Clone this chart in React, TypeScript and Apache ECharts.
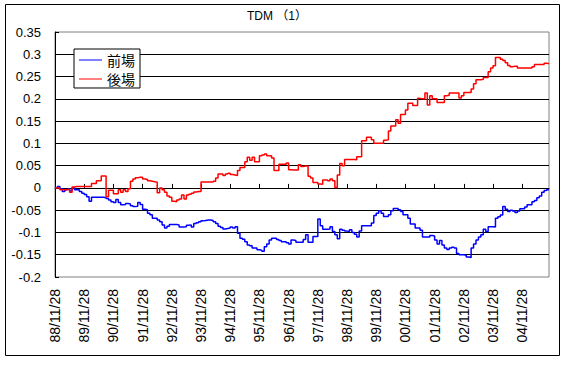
import React, { useEffect, useRef } from "react";
import * as echarts from "echarts";

// Year tick labels shown on the category axis (one every 12 monthly points)
const tickLabels = [
  "88/11/28", "89/11/28", "90/11/28", "91/11/28", "92/11/28", "93/11/28",
  "94/11/28", "95/11/28", "96/11/28", "97/11/28", "98/11/28", "99/11/28",
  "00/11/28", "01/11/28", "02/11/28", "03/11/28", "04/11/28",
];

// 前場 (blue) – monthly values, one row per year
const zenba = [
  0, 0.003, -0.002, -0.008, -0.004, -0.002, -0.007, 0, -0.004, -0.004, -0.008, -0.012,
  -0.015, -0.02, -0.03, -0.021, -0.021, -0.021, -0.021, -0.021, -0.022, -0.024, -0.027, -0.031,
  -0.033, -0.026, -0.033, -0.038, -0.037, -0.035, -0.036, -0.04, -0.042, -0.041, -0.033, -0.037,
  -0.048, -0.049, -0.057, -0.06, -0.068, -0.068, -0.072, -0.076, -0.083, -0.09, -0.086, -0.082,
  -0.082, -0.082, -0.083, -0.088, -0.088, -0.087, -0.084, -0.083, -0.088, -0.08, -0.078, -0.076,
  -0.074, -0.073, -0.072, -0.072, -0.073, -0.076, -0.08, -0.086, -0.089, -0.092, -0.091, -0.09,
  -0.088, -0.09, -0.087, -0.102, -0.113, -0.115, -0.121, -0.128, -0.13, -0.135, -0.135, -0.139,
  -0.14, -0.142, -0.132, -0.126, -0.117, -0.113, -0.113, -0.116, -0.118, -0.121, -0.121, -0.123,
  -0.126, -0.117, -0.118, -0.122, -0.122, -0.122, -0.116, -0.105, -0.122, -0.122, -0.109, -0.109,
  -0.07, -0.085, -0.093, -0.093, -0.092, -0.087, -0.098, -0.105, -0.114, -0.093, -0.095, -0.097,
  -0.098, -0.094, -0.1, -0.104, -0.11, -0.097, -0.085, -0.085, -0.085, -0.085, -0.079, -0.062,
  -0.057, -0.051, -0.057, -0.064, -0.064, -0.06, -0.051, -0.046, -0.046, -0.049, -0.053, -0.06,
  -0.06, -0.068, -0.081, -0.081, -0.09, -0.09, -0.095, -0.11, -0.11, -0.11, -0.107, -0.108,
  -0.117, -0.126, -0.118, -0.128, -0.135, -0.138, -0.135, -0.133, -0.135, -0.147, -0.15, -0.15,
  -0.151, -0.155, -0.156, -0.135, -0.126, -0.117, -0.11, -0.105, -0.093, -0.098, -0.087, -0.087,
  -0.088, -0.068, -0.065, -0.061, -0.042, -0.048, -0.053, -0.05, -0.052, -0.055, -0.052, -0.047,
  -0.047, -0.043, -0.038, -0.038, -0.031, -0.028, -0.022, -0.018, -0.01, -0.006, -0.004, -0.004,
];

// 後場 (red) – monthly values, one row per year
const goba = [
  0, 0, -0.004, -0.004, -0.004, -0.003, -0.01, 0.002, 0.003, 0.003, 0.003, 0.003,
  0.003, 0.003, 0.003, 0.01, 0.01, 0.016, 0.016, 0.027, 0.027, -0.02, -0.005, -0.005,
  -0.013, -0.013, -0.004, -0.01, -0.004, -0.008, -0.002, 0.015, 0.02, 0.023, 0.024, 0.024,
  0.02, 0.019, 0.016, 0.015, 0.014, 0.013, -0.011, 0, -0.004, -0.01, -0.018, -0.021,
  -0.03, -0.031, -0.027, -0.025, -0.016, -0.025, -0.016, -0.014, -0.012, -0.009, -0.008, -0.008,
  0.013, 0.013, 0.013, 0.013, 0.013, 0.015, 0.022, 0.031, 0.031, 0.028, 0.031, 0.033,
  0.03, 0.029, 0.028, 0.039, 0.046, 0.046, 0.059, 0.069, 0.062, 0.069, 0.059, 0.059,
  0.072, 0.074, 0.076, 0.072, 0.072, 0.067, 0.039, 0.039, 0.053, 0.053, 0.053, 0.056,
  0.041, 0.04, 0.04, 0.04, 0.052, 0.048, 0.049, 0.049, 0.026, 0.022, 0.012, 0.012,
  0.009, 0.008, 0.018, 0.018, 0.016, 0.02, 0.016, 0.001, 0.029, 0.055, 0.05, 0.064,
  0.064, 0.064, 0.064, 0.063, 0.07, 0.07, 0.106, 0.106, 0.114, 0.114, 0.108, 0.1,
  0.1, 0.1, 0.1, 0.107, 0.108, 0.128, 0.139, 0.139, 0.153, 0.145, 0.165, 0.165,
  0.175, 0.19, 0.19, 0.185, 0.185, 0.201, 0.2, 0.2, 0.213, 0.186, 0.207, 0.2,
  0.2, 0.192, 0.192, 0.192, 0.207, 0.208, 0.213, 0.213, 0.213, 0.213, 0.202, 0.207,
  0.214, 0.214, 0.214, 0.222, 0.234, 0.243, 0.243, 0.244, 0.248, 0.248, 0.261, 0.269,
  0.274, 0.293, 0.293, 0.289, 0.286, 0.281, 0.275, 0.272, 0.273, 0.273, 0.269, 0.269,
  0.269, 0.269, 0.269, 0.269, 0.272, 0.277, 0.277, 0.277, 0.277, 0.28, 0.279, 0.279,
];

const seriesNames = ["前場", "後場"];
const titleText = "TDM （1）";

// Monthly category names; every 12th one is a year tick label
function buildCategories(): string[] {
  const out: string[] = [];
  const n = zenba.length;
  for (let i = 0; i < n; i++) {
    const yearIdx = Math.floor(i / 12);
    const base = tickLabels[Math.min(yearIdx, tickLabels.length - 1)];
    const m = i % 12;
    if (m === 0) {
      out.push(base);
    } else {
      const yy = parseInt(base.slice(0, 2), 10);
      const month = ((10 + m) % 12) + 1;
      const year = month < 11 ? (yy + 1) % 100 : yy;
      out.push(`${String(year).padStart(2, "0")}/${String(month).padStart(2, "0")}/28`);
    }
  }
  return out;
}

const FONT = '"Liberation Sans", Arial, "Noto Sans CJK JP", sans-serif';
const CJK = '"Noto Sans CJK JP", "Liberation Sans", sans-serif';

export default function App() {
  const ref = useRef<HTMLDivElement>(null);

  useEffect(() => {
    if (!ref.current) return;
    const chart = echarts.init(ref.current, undefined, { renderer: "svg" });
    const categories = buildCategories();

    const option: any = {
      animation: false,
      backgroundColor: "#ffffff",
      title: {
        text: titleText,
        left: 247,
        top: 10,
        padding: 0,
        textStyle: { fontSize: 12, fontWeight: "normal", color: "#000", fontFamily: FONT },
      },
      legend: {
        data: seriesNames,
        orient: "vertical",
        left: 74,
        top: 49,
        padding: [4, 5, 2, 5],
        itemGap: 5,
        itemWidth: 23,
        itemHeight: 1,
        icon: "rect",
        borderColor: "#000",
        borderWidth: 1,
        borderRadius: 0,
        backgroundColor: "#fff",
        textStyle: { fontSize: 14, color: "#000", fontFamily: CJK },
      },
      grid: {
        left: 55,
        top: 32,
        right: 31,
        bottom: 91,
        show: true,
        borderColor: "#808080",
        borderWidth: 1,
        backgroundColor: "transparent",
      },
      xAxis: [
        {
          type: "category",
          data: categories,
          boundaryGap: false,
          position: "bottom",
          axisLine: { show: false, onZero: false },
          axisTick: { show: false },
          axisLabel: {
            interval: 11,
            rotate: 90,
            margin: 12,
            fontSize: 14,
            color: "#000",
            fontFamily: FONT,
          },
          splitLine: { show: false },
        },
        {
          type: "category",
          data: categories,
          boundaryGap: false,
          position: "top",
          axisLine: { show: true, onZero: true, lineStyle: { color: "#000", width: 1 } },
          axisTick: { show: true, interval: 11, length: 4, inside: false, lineStyle: { color: "#000", width: 1 } },
          axisLabel: { show: false },
          splitLine: { show: false },
        },
      ],
      yAxis: {
        type: "value",
        min: -0.2,
        max: 0.35,
        interval: 0.05,
        axisLine: { show: true, onZero: false, lineStyle: { color: "#000", width: 1 } },
        axisTick: { show: true, inside: true, length: 4, lineStyle: { color: "#000" } },
        axisLabel: {
          margin: 14,
          fontSize: 13,
          color: "#000",
          fontFamily: FONT,
          formatter: (v: number) => String(parseFloat(v.toFixed(2))),
        },
        splitLine: {
          show: true,
          showMinLine: false,
          showMaxLine: false,
          lineStyle: { color: "#000", width: 1 },
        },
      },
      series: [
        {
          name: seriesNames[0],
          type: "line",
          step: "end",
          data: zenba,
          symbol: "none",
          color: "#0000ff",
          lineStyle: { color: "#0000ff", width: 1.5 },
          itemStyle: { color: "#0000ff" },
        },
        {
          name: seriesNames[1],
          type: "line",
          step: "end",
          data: goba,
          symbol: "none",
          color: "#ff0000",
          lineStyle: { color: "#ff0000", width: 1.5 },
          itemStyle: { color: "#ff0000" },
        },
      ],
      graphic: [
        {
          type: "rect",
          silent: true,
          z: 100,
          shape: { x: 5.5, y: 4.5, width: 554, height: 351 },
          style: { fill: "none", stroke: "#000", lineWidth: 1 },
        },
      ],
    };

    chart.setOption(option);
    return () => chart.dispose();
  }, []);

  return (
    <div
      ref={ref}
      style={{ position: "absolute", left: 0, top: 0, width: 580, height: 368, background: "#fff" }}
    />
  );
}
